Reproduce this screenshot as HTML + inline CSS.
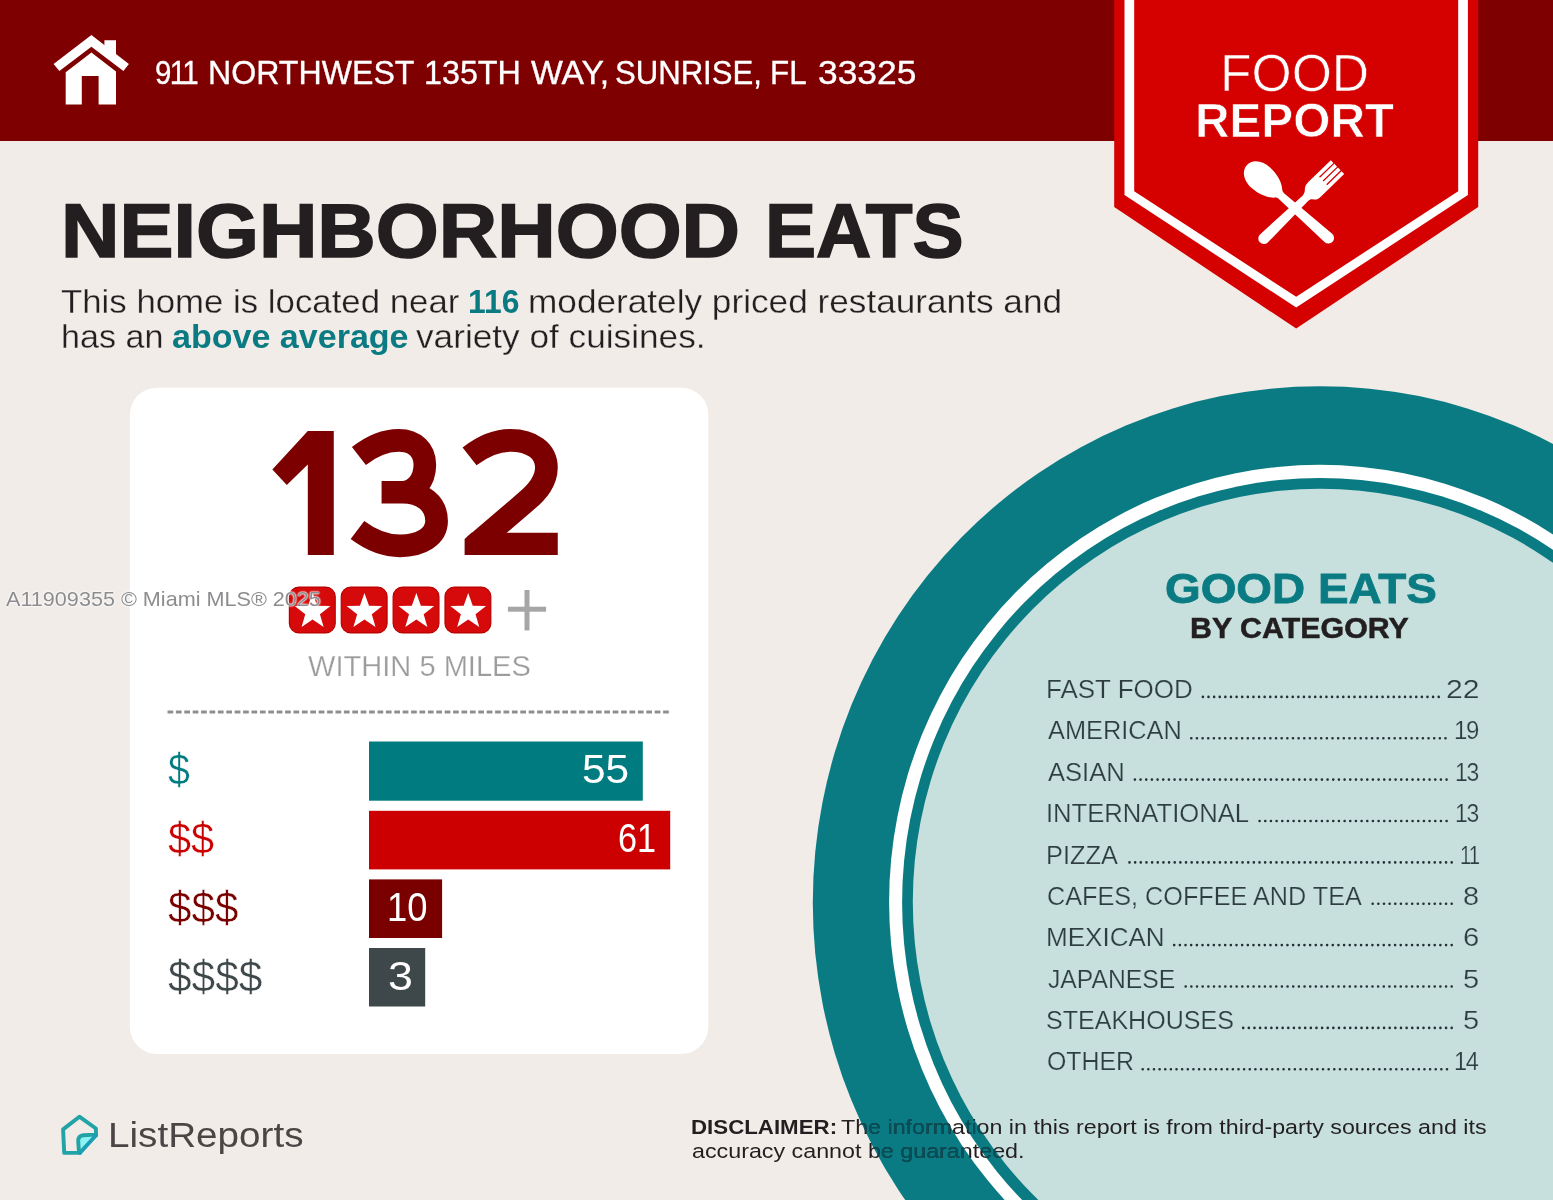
<!DOCTYPE html>
<html><head><meta charset="utf-8"><title>Food Report</title>
<style>
html,body{margin:0;padding:0;}
body{width:1553px;height:1200px;overflow:hidden;background:#f1ece8;position:relative;font-family:"Liberation Sans",sans-serif;}
svg{position:absolute;left:0;top:0;}
.t{position:absolute;white-space:nowrap;line-height:1;transform-origin:0 0;font-family:"Liberation Sans",sans-serif;}
#tx{position:absolute;left:0;top:0;width:1553px;height:1200px;will-change:transform;}
#cl{position:absolute;left:0;top:0;width:1553px;height:1200px;clip-path:path(evenodd,'M812.8,902.7 a507.2,516.5 0 1,0 1014.4,0 a507.2,516.5 0 1,0 -1014.4,0 Z M889.1,902.0 a430.7,437.2 0 1,0 861.4,0 a430.7,437.2 0 1,0 -861.4,0 Z M902.1,902.4 a418.1,424.4 0 1,0 836.2,0 a418.1,424.4 0 1,0 -836.2,0 Z M912.8,901.8 a407.4,413.0 0 1,0 814.8,0 a407.4,413.0 0 1,0 -814.8,0 Z');}
</style></head><body>
<svg width="1553" height="1200" viewBox="0 0 1553 1200">
<rect x="0" y="0" width="1553" height="141" fill="#7f0000"/>
<ellipse cx="1320.0" cy="902.7" rx="507.2" ry="516.5" fill="#0a7b82"/>
<ellipse cx="1319.8" cy="902.0" rx="430.7" ry="437.2" fill="#fff"/>
<ellipse cx="1320.2" cy="902.4" rx="418.1" ry="424.4" fill="#0a7b82"/>
<ellipse cx="1320.2" cy="901.8" rx="407.4" ry="413.0" fill="#c7e0dd"/>
<rect x="129.9" y="387.7" width="578.4" height="666.3" rx="27" ry="27" fill="#fff"/>
<polygon points="1114.2,0 1478.2,0 1478.2,207 1296.2,328.6 1114.2,207" fill="#d50000"/>
<polygon points="1124.5,0 1124.5,195.1 1296.2,307.5 1467.9,195.1 1467.9,0 1458.2,0 1458.2,191.2 1296.2,296.7 1134.2,191.2 1134.2,0" fill="#fff"/>
<g transform="translate(1263.5,180.1) rotate(-48.3)" fill="#fff"><path d="M0,-22.4 C8.5,-22.4 13.8,-13.5 13.8,-3.5 C13.8,7 10,16 5.2,20.5 C4.4,21.5 4,22.5 3.9,24 L5.6,87 A5.6,5.6 0 0 1 -5.6,87 L-3.9,24 C-4,22.5 -4.4,21.5 -5.2,20.5 C-10,16 -13.8,7 -13.8,-3.5 C-13.8,-13.5 -8.5,-22.4 0,-22.4 Z"/></g>
<g transform="translate(1337.5,167.1) rotate(45.9)" fill="#fff"><path d="M-9.6,0 L-9.6,31 C-9.6,40 -4.2,38 -3.8,45 L-5.6,102.5 A5.6,5.6 0 0 0 5.6,102.5 L3.8,45 C4.2,38 9.6,41 9.6,33 L9.6,0 L5.8,0 L5.8,20 L4.5,20 L4.5,0 L0.65,0 L0.65,20 L-0.65,20 L-0.65,0 L-4.5,0 L-4.5,20 L-5.8,20 L-5.8,0 Z"/></g>
<g fill="#fff"><polygon points="91.4,35.1 128.9,64 123.4,70.9 91.4,46.8 59.4,70.9 53.6,64"/><polygon points="104.4,40.3 116,40.3 116,55 104.4,46"/><path d="M91.4,52.5 L116,71.5 L116,104.4 L98.6,104.4 L98.6,76 L81.8,76 L81.8,104.4 L65.7,104.4 L65.7,72.3 Z"/></g>
<g transform="translate(260,415) scale(0.206058)" fill="#7d0000" stroke="#7d0000"><polygon stroke="none" points="232,78 358,78 358,680 232,680 232,240 130,340 60,265"/><path fill="none" stroke-width="110" d="M 480,199 C 535,156 600,123 672,123 C 752,123 800,172 800,242 C 800,320 750,375 690,375 L 590,375 M 690,375 C 790,375 857,430 857,515 C 857,590 780,635 680,635 C 600,635 529,600 473,558"/><path fill="none" stroke-width="110" d="M 1017,201 C 1072,158 1140,123 1215,123 C 1320,123 1390,175 1390,255 C 1390,320 1350,370 1290,420 L 1040,634"/><polygon stroke="none" points="1027,572 1445,572 1445,680 993,680 993,602"/></g>
<rect x="289.40" y="587.1" width="45.8" height="45.8" rx="9.5" ry="9.5" fill="#d60a0a" stroke="#b80000" stroke-width="1.2"/>
<polygon points="312.60,593.10 317.13,605.67 330.48,606.09 319.92,614.28 323.65,627.11 312.60,619.60 301.55,627.11 305.28,614.28 294.72,606.09 308.07,605.67" fill="#fff"/>
<rect x="341.27" y="587.1" width="45.8" height="45.8" rx="9.5" ry="9.5" fill="#d60a0a" stroke="#b80000" stroke-width="1.2"/>
<polygon points="364.47,593.10 369.00,605.67 382.35,606.09 371.79,614.28 375.52,627.11 364.47,619.60 353.42,627.11 357.15,614.28 346.59,606.09 359.94,605.67" fill="#fff"/>
<rect x="393.14" y="587.1" width="45.8" height="45.8" rx="9.5" ry="9.5" fill="#d60a0a" stroke="#b80000" stroke-width="1.2"/>
<polygon points="416.34,593.10 420.87,605.67 434.22,606.09 423.66,614.28 427.39,627.11 416.34,619.60 405.29,627.11 409.02,614.28 398.46,606.09 411.81,605.67" fill="#fff"/>
<rect x="445.01" y="587.1" width="45.8" height="45.8" rx="9.5" ry="9.5" fill="#d60a0a" stroke="#b80000" stroke-width="1.2"/>
<polygon points="468.21,593.10 472.74,605.67 486.09,606.09 475.53,614.28 479.26,627.11 468.21,619.60 457.16,627.11 460.89,614.28 450.33,606.09 463.68,605.67" fill="#fff"/>
<rect x="507.9" y="606.7" width="38.2" height="5" fill="#a6a6a6"/><rect x="524.5" y="590" width="5" height="40.4" fill="#a6a6a6"/>
<line x1="167.5" y1="712" x2="671" y2="712" stroke="#8f8f8f" stroke-width="2.8" stroke-dasharray="5.7 2.7"/>
<rect x="369" y="741.5" width="273.8" height="59.2" fill="#007b80"/>
<rect x="369" y="810.8" width="301.2" height="58.6" fill="#cc0000"/>
<rect x="369" y="879.4" width="73.1" height="58.6" fill="#7a0000"/>
<rect x="369" y="948" width="56.2" height="58.5" fill="#3e474a"/>
<line x1="1202.90" y1="696.9" x2="1439.20" y2="696.9" stroke="#243033" stroke-width="2.6" stroke-linecap="round" stroke-dasharray="0 5.6143"/>
<line x1="1191.30" y1="738.3" x2="1446.00" y2="738.3" stroke="#243033" stroke-width="2.6" stroke-linecap="round" stroke-dasharray="0 5.6489"/>
<line x1="1134.90" y1="779.6" x2="1447.10" y2="779.6" stroke="#243033" stroke-width="2.6" stroke-linecap="round" stroke-dasharray="0 5.6673"/>
<line x1="1259.60" y1="821.0" x2="1447.10" y2="821.0" stroke="#243033" stroke-width="2.6" stroke-linecap="round" stroke-dasharray="0 5.6667"/>
<line x1="1129.50" y1="862.4" x2="1452.20" y2="862.4" stroke="#243033" stroke-width="2.6" stroke-linecap="round" stroke-dasharray="0 5.6526"/>
<line x1="1372.70" y1="903.8" x2="1452.20" y2="903.8" stroke="#243033" stroke-width="2.6" stroke-linecap="round" stroke-dasharray="0 5.6429"/>
<line x1="1174.20" y1="945.1" x2="1452.20" y2="945.1" stroke="#243033" stroke-width="2.6" stroke-linecap="round" stroke-dasharray="0 5.6633"/>
<line x1="1185.70" y1="986.5" x2="1452.20" y2="986.5" stroke="#243033" stroke-width="2.6" stroke-linecap="round" stroke-dasharray="0 5.6596"/>
<line x1="1243.20" y1="1027.9" x2="1452.20" y2="1027.9" stroke="#243033" stroke-width="2.6" stroke-linecap="round" stroke-dasharray="0 5.6351"/>
<line x1="1142.70" y1="1069.2" x2="1447.50" y2="1069.2" stroke="#243033" stroke-width="2.6" stroke-linecap="round" stroke-dasharray="0 5.6352"/>
<g fill="none" stroke-linejoin="round" stroke-linecap="round"><path d="M80.5,1151 L80,1140.5 Q80,1136 84.5,1135.6 L95,1135 Z" fill="#8df3f5" stroke="none"/><path d="M79.9,1152.9 L64.2,1152.9 L63.1,1129.4 L79.4,1116.7 L95.9,1128.5 L96.1,1135.2 M79,1152.5 L78.2,1141 Q78.2,1135.6 83.5,1135.2 L95.5,1134.6" stroke="#22a3a6" stroke-width="3.9"/><path d="M96.1,1135.2 L79.9,1152.9" stroke="#1b9fb3" stroke-width="3.9"/></g>
</svg>
<div id="tx">
<div class="t" style="left:154.81px;top:56.58px;font-size:32.78px;font-weight:400;color:#fff;transform:scaleX(0.8998);letter-spacing:-1.80px;-webkit-text-stroke:0.35px #fff;">911</div>
<div class="t" style="left:207.86px;top:56.58px;font-size:32.78px;font-weight:400;color:#fff;transform:scaleX(0.9808);-webkit-text-stroke:0.35px #fff;">NORTHWEST</div>
<div class="t" style="left:423.62px;top:56.58px;font-size:32.78px;font-weight:400;color:#fff;transform:scaleX(0.9851);-webkit-text-stroke:0.35px #fff;">135TH</div>
<div class="t" style="left:530.92px;top:56.58px;font-size:32.78px;font-weight:400;color:#fff;transform:scaleX(1.0290);-webkit-text-stroke:0.35px #fff;">WAY,</div>
<div class="t" style="left:614.61px;top:56.58px;font-size:32.78px;font-weight:400;color:#fff;transform:scaleX(0.9492);-webkit-text-stroke:0.35px #fff;">SUNRISE,</div>
<div class="t" style="left:770.46px;top:56.58px;font-size:32.78px;font-weight:400;color:#fff;transform:scaleX(0.9556);-webkit-text-stroke:0.35px #fff;">FL</div>
<div class="t" style="left:817.60px;top:56.58px;font-size:32.78px;font-weight:400;color:#fff;transform:scaleX(1.0802);-webkit-text-stroke:0.35px #fff;">33325</div>
<div class="t" style="left:1219.92px;top:47.41px;font-size:52.33px;font-weight:400;color:#fff;transform:scaleX(0.9866);-webkit-text-stroke:0.7px #d50000;">FOOD</div>
<div class="t" style="left:1195.05px;top:95.96px;font-size:48.84px;font-weight:700;color:#fff;transform:scaleX(0.9783);-webkit-text-stroke:0.7px #d50000;">REPORT</div>
<div class="t" style="left:61.06px;top:193.05px;font-size:76.02px;font-weight:700;color:#231f20;transform:scaleX(1.0651);-webkit-text-stroke:1.6px #231f20;">NEIGHBORHOOD</div>
<div class="t" style="left:765.40px;top:193.05px;font-size:76.02px;font-weight:700;color:#231f20;transform:scaleX(1.0080);-webkit-text-stroke:1.6px #231f20;">EATS</div>
<div class="t" style="left:61.20px;top:286.39px;font-size:32.85px;font-weight:400;color:#231f20;transform:scaleX(1.0597);-webkit-text-stroke:0.3px #f1ece8;">This home is located near</div>
<div class="t" style="left:468.06px;top:286.39px;font-size:32.85px;font-weight:700;color:#0a7b82;transform:scaleX(0.9693);">116</div>
<div class="t" style="left:527.72px;top:286.39px;font-size:32.85px;font-weight:400;color:#231f20;transform:scaleX(1.0720);-webkit-text-stroke:0.3px #f1ece8;">moderately priced restaurants and</div>
<div class="t" style="left:61.30px;top:320.79px;font-size:32.85px;font-weight:400;color:#231f20;transform:scaleX(1.0386);-webkit-text-stroke:0.3px #f1ece8;">has an</div>
<div class="t" style="left:171.93px;top:320.79px;font-size:32.85px;font-weight:700;color:#0a7b82;transform:scaleX(1.0369);">above average</div>
<div class="t" style="left:415.98px;top:320.79px;font-size:32.85px;font-weight:400;color:#231f20;transform:scaleX(1.0723);-webkit-text-stroke:0.3px #f1ece8;">variety of cuisines.</div>
<div class="t" style="left:307.62px;top:650.85px;font-size:29.36px;font-weight:400;color:#9c9c9c;transform:scaleX(0.9900);-webkit-text-stroke:0.25px #fff;">WITHIN 5 MILES</div>
<div class="t" style="left:168.10px;top:748.25px;font-size:43.95px;font-weight:400;color:#007b80;transform:scaleX(0.8969);-webkit-text-stroke:0.45px #fff;">$</div>
<div class="t" style="left:168.02px;top:817.05px;font-size:43.95px;font-weight:400;color:#cc0000;transform:scaleX(0.9454);-webkit-text-stroke:0.45px #fff;">$$</div>
<div class="t" style="left:167.97px;top:885.85px;font-size:43.95px;font-weight:400;color:#7a0000;transform:scaleX(0.9594);-webkit-text-stroke:0.45px #fff;">$$$</div>
<div class="t" style="left:167.97px;top:954.65px;font-size:43.95px;font-weight:400;color:#3e474a;transform:scaleX(0.9661);-webkit-text-stroke:0.45px #fff;">$$$$</div>
<div class="t" style="left:582.09px;top:749.45px;font-size:40.05px;font-weight:400;color:#fff;transform:scaleX(1.0597);">55</div>
<div class="t" style="left:618.25px;top:818.20px;font-size:40.90px;font-weight:400;color:#fff;transform:scaleX(0.8374);">61</div>
<div class="t" style="left:386.79px;top:887.20px;font-size:40.90px;font-weight:400;color:#fff;transform:scaleX(0.8908);">10</div>
<div class="t" style="left:387.79px;top:955.99px;font-size:41.00px;font-weight:400;color:#fff;transform:scaleX(1.0939);">3</div>
<div class="t" style="left:1165.27px;top:568.07px;font-size:42.44px;font-weight:700;color:#0a7b82;transform:scaleX(1.0807);-webkit-text-stroke:0.8px #0a7b82;">GOOD EATS</div>
<div class="t" style="left:1190.19px;top:613.36px;font-size:30.23px;font-weight:700;color:#231f20;transform:scaleX(1.0053);-webkit-text-stroke:0.5px #231f20;">BY CATEGORY</div>
<div class="t" style="left:1045.99px;top:676.57px;font-size:25.44px;font-weight:400;color:#2e3d40;transform:scaleX(1.0210);-webkit-text-stroke:0.22px #c7e0dd;">FAST FOOD</div>
<div class="t" style="left:1446.39px;top:676.57px;font-size:25.44px;font-weight:400;color:#2e3d40;transform:scaleX(1.1830);-webkit-text-stroke:0.22px #c7e0dd;">22</div>
<div class="t" style="left:1047.71px;top:717.94px;font-size:25.44px;font-weight:400;color:#2e3d40;transform:scaleX(0.9959);-webkit-text-stroke:0.22px #c7e0dd;">AMERICAN</div>
<div class="t" style="left:1454.12px;top:717.94px;font-size:25.44px;font-weight:400;color:#2e3d40;transform:scaleX(0.9417);letter-spacing:-1.40px;-webkit-text-stroke:0.22px #c7e0dd;">19</div>
<div class="t" style="left:1047.73px;top:760.31px;font-size:25.44px;font-weight:400;color:#2e3d40;transform:scaleX(1.0051);-webkit-text-stroke:0.22px #c7e0dd;">ASIAN</div>
<div class="t" style="left:1455.20px;top:760.31px;font-size:25.44px;font-weight:400;color:#2e3d40;transform:scaleX(0.9000);letter-spacing:-1.40px;-webkit-text-stroke:0.22px #c7e0dd;">13</div>
<div class="t" style="left:1045.53px;top:800.68px;font-size:25.44px;font-weight:400;color:#2e3d40;transform:scaleX(1.0066);-webkit-text-stroke:0.22px #c7e0dd;">INTERNATIONAL</div>
<div class="t" style="left:1455.20px;top:800.68px;font-size:25.44px;font-weight:400;color:#2e3d40;transform:scaleX(0.9000);letter-spacing:-1.40px;-webkit-text-stroke:0.22px #c7e0dd;">13</div>
<div class="t" style="left:1046.27px;top:843.05px;font-size:25.44px;font-weight:400;color:#2e3d40;transform:scaleX(0.9975);-webkit-text-stroke:0.22px #c7e0dd;">PIZZA</div>
<div class="t" style="left:1459.51px;top:843.05px;font-size:25.44px;font-weight:400;color:#2e3d40;transform:scaleX(0.7973);letter-spacing:-1.40px;-webkit-text-stroke:0.22px #c7e0dd;">11</div>
<div class="t" style="left:1046.64px;top:884.42px;font-size:25.44px;font-weight:400;color:#2e3d40;transform:scaleX(0.9912);-webkit-text-stroke:0.22px #c7e0dd;">CAFES, COFFEE AND TEA</div>
<div class="t" style="left:1463.32px;top:884.42px;font-size:25.44px;font-weight:400;color:#2e3d40;transform:scaleX(1.1376);-webkit-text-stroke:0.22px #c7e0dd;">8</div>
<div class="t" style="left:1045.96px;top:924.79px;font-size:25.44px;font-weight:400;color:#2e3d40;transform:scaleX(1.0236);-webkit-text-stroke:0.22px #c7e0dd;">MEXICAN</div>
<div class="t" style="left:1462.85px;top:924.79px;font-size:25.44px;font-weight:400;color:#2e3d40;transform:scaleX(1.1499);-webkit-text-stroke:0.22px #c7e0dd;">6</div>
<div class="t" style="left:1047.94px;top:967.16px;font-size:25.44px;font-weight:400;color:#2e3d40;transform:scaleX(0.9706);-webkit-text-stroke:0.22px #c7e0dd;">JAPANESE</div>
<div class="t" style="left:1462.87px;top:967.16px;font-size:25.44px;font-weight:400;color:#2e3d40;transform:scaleX(1.1415);-webkit-text-stroke:0.22px #c7e0dd;">5</div>
<div class="t" style="left:1046.21px;top:1007.53px;font-size:25.44px;font-weight:400;color:#2e3d40;transform:scaleX(0.9843);-webkit-text-stroke:0.22px #c7e0dd;">STEAKHOUSES</div>
<div class="t" style="left:1462.87px;top:1007.53px;font-size:25.44px;font-weight:400;color:#2e3d40;transform:scaleX(1.1415);-webkit-text-stroke:0.22px #c7e0dd;">5</div>
<div class="t" style="left:1046.89px;top:1048.90px;font-size:25.44px;font-weight:400;color:#2e3d40;transform:scaleX(0.9774);-webkit-text-stroke:0.22px #c7e0dd;">OTHER</div>
<div class="t" style="left:1454.15px;top:1048.90px;font-size:25.44px;font-weight:400;color:#2e3d40;transform:scaleX(0.9257);letter-spacing:-1.40px;-webkit-text-stroke:0.22px #c7e0dd;">14</div>
<div class="t" style="left:108.18px;top:1117.98px;font-size:35.47px;font-weight:400;color:#4a4645;transform:scaleX(1.0896);">ListReports</div>
<div class="t" style="left:691.26px;top:1116.46px;font-size:21.08px;font-weight:700;color:#231f20;transform:scaleX(1.0570);">DISCLAIMER:</div>
<div class="t" style="left:841.42px;top:1116.46px;font-size:21.08px;font-weight:400;color:#231f20;transform:scaleX(1.1021);">The information in this report is from third-party sources and its</div>
<div class="t" style="left:691.55px;top:1140.16px;font-size:21.08px;font-weight:400;color:#231f20;transform:scaleX(1.1041);">accuracy cannot be guaranteed.</div>
<div class="t" style="left:5.57px;top:588.83px;font-size:20.64px;font-weight:400;color:#8d8d90;transform:scaleX(1.0475);text-shadow:0 0 2px #fff,0 0 2px #fff,0 0 1px #fff;">A11909355 © Miami MLS® 2025</div>
<div id="cl">
<div class="t" style="left:841.42px;top:1116.46px;font-size:21.08px;font-weight:400;color:#084e58;transform:scaleX(1.1021);">The information in this report is from third-party sources and its</div>
<div class="t" style="left:691.55px;top:1140.16px;font-size:21.08px;font-weight:400;color:#084e58;transform:scaleX(1.1041);">accuracy cannot be guaranteed.</div>
</div>
</div>
</body></html>
